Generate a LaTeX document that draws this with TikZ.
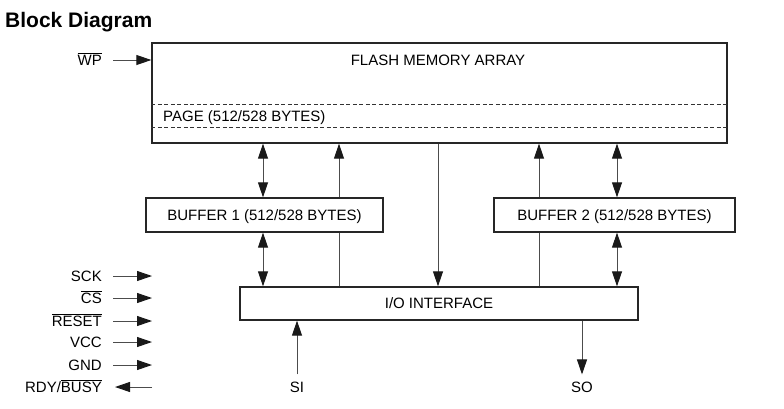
\documentclass[tikz,border=0pt]{standalone}
\usepackage{fontspec}
\setmainfont{Liberation Sans}
\usetikzlibrary{arrows.meta}
\newcommand\ovl[1]{$\overline{\mbox{#1}}$}
\begin{document}
\begin{tikzpicture}[x=1pt,y=-1pt,
  box/.style={draw=black!85,line width=1.3pt,fill=white,inner sep=0pt,font=\fontsize{15}{17}\selectfont,text height=10.7pt,text depth=0pt},
  txt/.style={inner sep=0pt,font=\fontsize{15}{17}\selectfont,text height=10.7pt,text depth=0pt},
  conn/.style={draw=black!70,line width=1pt},
  tip/.style={},
  arr/.style={conn,-{Triangle[length=15pt,width=10pt,color=black!90]}},
  dbl/.style={conn,{Triangle[length=15pt,width=10pt,color=black!90]}-{Triangle[length=15pt,width=10pt,color=black!90]}},
  dashline/.style={draw=black!80,line width=0.8pt,dash pattern=on 4pt off 2.5pt}]
\useasboundingbox (0,0) rectangle (784,408);
% title
\node[anchor=base west,inner sep=0pt,font=\fontsize{21}{24}\selectfont\bfseries] (title) at (5,27) {Block Diagram};
% main blocks
\node[box,minimum width=575pt,minimum height=100pt] (flash) at (439.5,93) {};
\node[txt] (flashlbl) at (438,60) {FLASH MEMORY ARRAY};
\node[txt,anchor=west] (page) at (163,116) {PAGE (512/528 BYTES)};
\draw[dashline] (flash.west |- 0,104) -- (flash.east |- 0,104);
\draw[dashline] (flash.west |- 0,127) -- (flash.east |- 0,127);
\node[box,minimum width=237pt,minimum height=34pt] (buf1) at (264.5,215) {BUFFER 1 (512/528 BYTES)};
\node[box,minimum width=241pt,minimum height=34pt] (buf2) at (614.5,215) {BUFFER 2 (512/528 BYTES)};
\node[box,minimum width=398pt,minimum height=33pt] (io) at (439,303.5) {I/O INTERFACE};
% column coordinates
\coordinate (c1) at (263,0);
\coordinate (c2) at (339,0);
\coordinate (c3) at (438,0);
\coordinate (c4) at (539,0);
\coordinate (c5) at (617,0);
% vertical connectors
\draw[dbl] (flash.south -| c1) -- (buf1.north -| c1);
\draw[dbl] (buf1.south -| c1) -- (io.north -| c1);
\draw[conn] (io.north -| c2) -- (buf1.south -| c2);
\draw[arr] (buf1.north -| c2) -- (flash.south -| c2);
\draw[arr] (flash.south -| c3) -- (io.north -| c3);
\draw[conn] (io.north -| c4) -- (buf2.south -| c4);
\draw[arr] (buf2.north -| c4) -- (flash.south -| c4);
\draw[dbl] (flash.south -| c5) -- (buf2.north -| c5);
\draw[dbl] (buf2.south -| c5) -- (io.north -| c5);
% left signals
\node[txt,anchor=east] (wp) at (102,60) {\ovl{WP}};
\draw[arr] ([xshift=11pt]wp.east) -- (flash.west |- wp.east);
\node[txt,anchor=east] (sck) at (102,276) {SCK};
\node[txt,anchor=east] (cs) at (102,298) {\ovl{CS}};
\node[txt,anchor=east] (reset) at (102,321) {\ovl{RESET}};
\node[txt,anchor=east] (vcc) at (102,342) {VCC};
\node[txt,anchor=east] (gnd) at (102,365) {GND};
\node[txt,anchor=east] (rdy) at (102,387) {RDY/\ovl{BUSY}};
\foreach \n in {sck,cs,reset,vcc,gnd}{
  \draw[arr] ([xshift=11pt]\n.east) -- ([xshift=50pt]\n.east);
}
\draw[arr] ([xshift=50pt]rdy.east) -- ([xshift=13pt]rdy.east);
% bottom signals
\node[txt] (si) at (297,387) {SI};
\node[txt] (so) at (582,387) {SO};
\draw[arr] ([yshift=7pt]si.north) -- (io.south -| si);
\draw[arr] (io.south -| so) -- ([yshift=7pt]so.north);
\end{tikzpicture}
\end{document}
